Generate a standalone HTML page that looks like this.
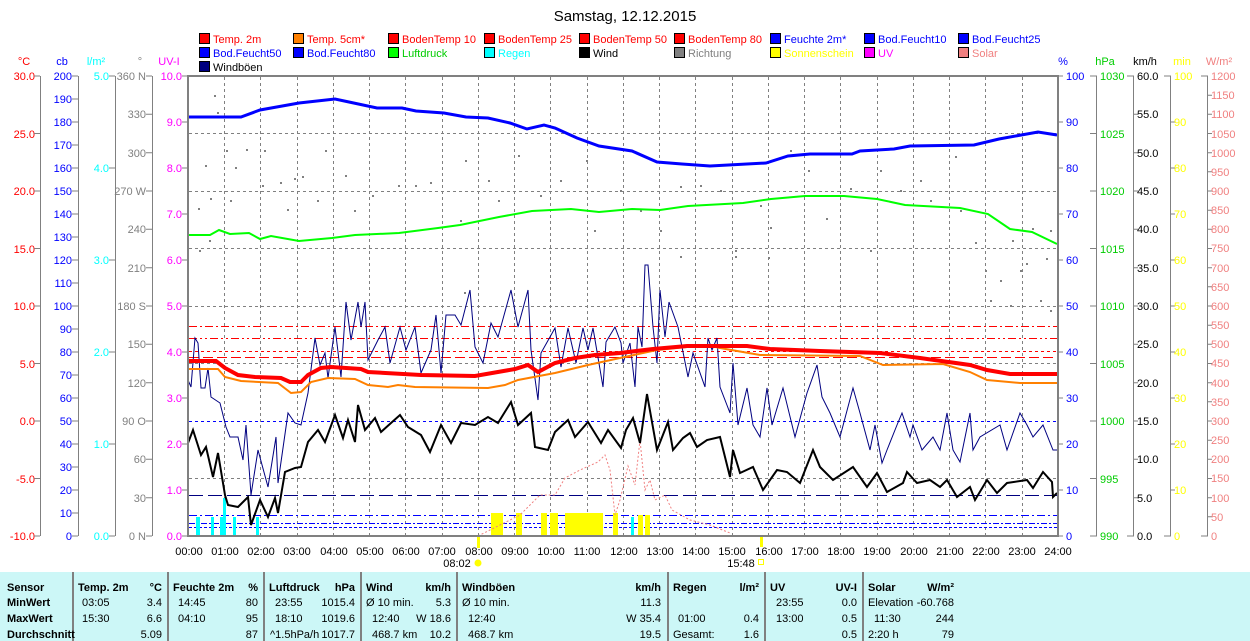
<!DOCTYPE html><html><head><meta charset="utf-8"><style>
html,body{margin:0;padding:0;background:#fff}
svg{display:block;font-family:"Liberation Sans",sans-serif;font-size:11px}
</style></head><body>
<svg width="1250" height="641" viewBox="0 0 1250 641" xmlns="http://www.w3.org/2000/svg">
<text x="625" y="21" font-size="15" text-anchor="middle">Samstag, 12.12.2015</text>
<g stroke="#000" stroke-width="1">
<rect x="199.5" y="33.5" width="10" height="10" fill="#f00"/><rect x="293.5" y="33.5" width="10" height="10" fill="#ff8000"/><rect x="388.5" y="33.5" width="10" height="10" fill="#f00"/><rect x="484.5" y="33.5" width="10" height="10" fill="#f00"/><rect x="579.5" y="33.5" width="10" height="10" fill="#f00"/><rect x="674.5" y="33.5" width="10" height="10" fill="#f00"/><rect x="770.5" y="33.5" width="10" height="10" fill="#00f"/><rect x="864.5" y="33.5" width="10" height="10" fill="#00f"/><rect x="958.5" y="33.5" width="10" height="10" fill="#00f"/>
<rect x="199.5" y="47.5" width="10" height="10" fill="#00f"/><rect x="293.5" y="47.5" width="10" height="10" fill="#00f"/><rect x="388.5" y="47.5" width="10" height="10" fill="#0f0"/><rect x="484.5" y="47.5" width="10" height="10" fill="#0ff"/><rect x="579.5" y="47.5" width="10" height="10" fill="#000"/><rect x="674.5" y="47.5" width="10" height="10" fill="#808080"/><rect x="770.5" y="47.5" width="10" height="10" fill="#ff0"/><rect x="864.5" y="47.5" width="10" height="10" fill="#f0f"/><rect x="958.5" y="47.5" width="10" height="10" fill="#f08080"/>
<rect x="199.5" y="61.5" width="10" height="10" fill="#000080"/>
</g>
<g>
<text x="213" y="43" fill="#f00">Temp. 2m</text><text x="307" y="43" fill="#f00">Temp. 5cm*</text><text x="402" y="43" fill="#f00">BodenTemp 10</text><text x="498" y="43" fill="#f00">BodenTemp 25</text><text x="593" y="43" fill="#f00">BodenTemp 50</text><text x="688" y="43" fill="#f00">BodenTemp 80</text><text x="784" y="43" fill="#00f">Feuchte 2m*</text><text x="878" y="43" fill="#00f">Bod.Feucht10</text><text x="972" y="43" fill="#00f">Bod.Feucht25</text>
<text x="213" y="57" fill="#00f">Bod.Feucht50</text><text x="307" y="57" fill="#00f">Bod.Feucht80</text><text x="402" y="57" fill="#0c0">Luftdruck</text><text x="498" y="57" fill="#0ff">Regen</text><text x="593" y="57" fill="#000">Wind</text><text x="688" y="57" fill="#808080">Richtung</text><text x="784" y="57" fill="#ff0">Sonnenschein</text><text x="878" y="57" fill="#f0f">UV</text><text x="972" y="57" fill="#f08080">Solar</text>
<text x="213" y="71" fill="#000">Windböen</text>
</g>
<g text-anchor="middle">
<text x="24" y="65" fill="#f00">°C</text><text x="62" y="65" fill="#00f">cb</text><text x="96" y="65" fill="#0ff">l/m²</text><text x="140" y="65" fill="#808080">°</text><text x="169" y="65" fill="#f0f">UV-I</text>
<text x="1063" y="65" fill="#00f">%</text><text x="1105" y="65" fill="#0c0">hPa</text><text x="1145" y="65" fill="#000">km/h</text><text x="1182" y="65" fill="#ff0">min</text><text x="1219" y="65" fill="#f08080">W/m²</text>
</g>
<g stroke="#808080" stroke-width="1">
<line x1="40.5" y1="76" x2="40.5" y2="536"/><line x1="78.5" y1="76" x2="78.5" y2="536"/><line x1="115.5" y1="76" x2="115.5" y2="536"/><line x1="152.5" y1="76" x2="152.5" y2="536"/>
<line x1="1096.5" y1="76" x2="1096.5" y2="536"/><line x1="1133.5" y1="76" x2="1133.5" y2="536"/><line x1="1170.5" y1="76" x2="1170.5" y2="536"/><line x1="1207.5" y1="76" x2="1207.5" y2="536"/>
</g>
<g fill="#f00" text-anchor="end">
<text x="35" y="80">30.0</text><text x="35" y="138">25.0</text><text x="35" y="195">20.0</text><text x="35" y="253">15.0</text><text x="35" y="310">10.0</text><text x="35" y="368">5.0</text><text x="35" y="425">0.0</text><text x="35" y="483">-5.0</text><text x="35" y="540">-10.0</text>
</g>
<g stroke="#808080"><path d="M34 76h6M34 133.5h6M34 191h6M34 248.5h6M34 306h6M34 363.5h6M34 421h6M34 478.5h6M34 536h6M72 76h6M72 99h6M72 122h6M72 145h6M72 168h6M72 191h6M72 214h6M72 237h6M72 260h6M72 283h6M72 306h6M72 329h6M72 352h6M72 375h6M72 398h6M72 421h6M72 444h6M72 467h6M72 490h6M72 513h6M72 536h6M109 76h6M109 168h6M109 260h6M109 352h6M109 444h6M109 536h6M146 76h6M146 114.3h6M146 152.7h6M146 191h6M146 229.3h6M146 267.7h6M146 306h6M146 344.3h6M146 382.7h6M146 421h6M146 459.3h6M146 497.7h6M146 536h6M182 76h6M182 122h6M182 168h6M182 214h6M182 260h6M182 306h6M182 352h6M182 398h6M182 444h6M182 490h6M182 536h6"/>
<path d="M1058 76h5M1058 122h5M1058 168h5M1058 214h5M1058 260h5M1058 306h5M1058 352h5M1058 398h5M1058 444h5M1058 490h5M1058 536h5M1090 76h7M1090 133.5h7M1090 191h7M1090 248.5h7M1090 306h7M1090 363.5h7M1090 421h7M1090 478.5h7M1090 536h7M1127 76h7M1133 114.3h5M1133 152.7h5M1133 191h5M1133 229.3h5M1133 267.7h5M1133 306h5M1133 344.3h5M1133 382.7h5M1133 421h5M1133 459.3h5M1133 497.7h5M1127 536h7M1164 76h7M1170 122h5M1170 168h5M1170 214h5M1170 260h5M1170 306h5M1170 352h5M1170 398h5M1170 444h5M1170 490h5M1164 536h7M1201 76h7M1207 95.2h5M1207 114.3h5M1207 133.5h5M1207 152.7h5M1207 171.8h5M1207 191h5M1207 210.2h5M1207 229.3h5M1207 248.5h5M1207 267.7h5M1207 286.8h5M1207 306h5M1207 325.2h5M1207 344.3h5M1207 363.5h5M1207 382.7h5M1207 401.8h5M1207 421h5M1207 440.2h5M1207 459.3h5M1207 478.5h5M1207 497.7h5M1207 516.8h5M1201 536h7"/></g>
<g fill="#00f" text-anchor="end">
<text x="72" y="80">200</text><text x="72" y="103">190</text><text x="72" y="126">180</text><text x="72" y="149">170</text><text x="72" y="172">160</text><text x="72" y="195">150</text><text x="72" y="218">140</text><text x="72" y="241">130</text><text x="72" y="264">120</text><text x="72" y="287">110</text><text x="72" y="310">100</text><text x="72" y="333">90</text><text x="72" y="356">80</text><text x="72" y="379">70</text><text x="72" y="402">60</text><text x="72" y="425">50</text><text x="72" y="448">40</text><text x="72" y="471">30</text><text x="72" y="494">20</text><text x="72" y="517">10</text><text x="72" y="540">0</text>
</g>
<g fill="#0ff" text-anchor="end">
<text x="109" y="80">5.0</text><text x="109" y="172">4.0</text><text x="109" y="264">3.0</text><text x="109" y="356">2.0</text><text x="109" y="448">1.0</text><text x="109" y="540">0.0</text>
</g>
<g fill="#808080" text-anchor="end">
<text x="146" y="80">360 N</text><text x="146" y="118">330</text><text x="146" y="157">300</text><text x="146" y="195">270 W</text><text x="146" y="233">240</text><text x="146" y="272">210</text><text x="146" y="310">180 S</text><text x="146" y="348">150</text><text x="146" y="387">120</text><text x="146" y="425">90 O</text><text x="146" y="463">60</text><text x="146" y="502">30</text><text x="146" y="540">0 N</text>
</g>
<g fill="#f0f" text-anchor="end">
<text x="182" y="80">10.0</text><text x="182" y="126">9.0</text><text x="182" y="172">8.0</text><text x="182" y="218">7.0</text><text x="182" y="264">6.0</text><text x="182" y="310">5.0</text><text x="182" y="356">4.0</text><text x="182" y="402">3.0</text><text x="182" y="448">2.0</text><text x="182" y="494">1.0</text><text x="182" y="540">0.0</text>
</g>
<g fill="#00f"><text x="1066" y="80">100</text><text x="1066" y="126">90</text><text x="1066" y="172">80</text><text x="1066" y="218">70</text><text x="1066" y="264">60</text><text x="1066" y="310">50</text><text x="1066" y="356">40</text><text x="1066" y="402">30</text><text x="1066" y="448">20</text><text x="1066" y="494">10</text><text x="1066" y="540">0</text></g>
<g fill="#0c0"><text x="1100" y="80">1030</text><text x="1100" y="138">1025</text><text x="1100" y="195">1020</text><text x="1100" y="253">1015</text><text x="1100" y="310">1010</text><text x="1100" y="368">1005</text><text x="1100" y="425">1000</text><text x="1100" y="483">995</text><text x="1100" y="540">990</text></g>
<g fill="#000"><text x="1137" y="80">60.0</text><text x="1137" y="118">55.0</text><text x="1137" y="157">50.0</text><text x="1137" y="195">45.0</text><text x="1137" y="233">40.0</text><text x="1137" y="272">35.0</text><text x="1137" y="310">30.0</text><text x="1137" y="348">25.0</text><text x="1137" y="387">20.0</text><text x="1137" y="425">15.0</text><text x="1137" y="463">10.0</text><text x="1137" y="502">5.0</text><text x="1137" y="540">0.0</text></g>
<g fill="#ff0"><text x="1174" y="80">100</text><text x="1174" y="126">90</text><text x="1174" y="172">80</text><text x="1174" y="218">70</text><text x="1174" y="264">60</text><text x="1174" y="310">50</text><text x="1174" y="356">40</text><text x="1174" y="402">30</text><text x="1174" y="448">20</text><text x="1174" y="494">10</text><text x="1174" y="540">0</text></g>
<g fill="#f08080"><text x="1211" y="80">1200</text><text x="1211" y="99">1150</text><text x="1211" y="118">1100</text><text x="1211" y="138">1050</text><text x="1211" y="157">1000</text><text x="1211" y="176">950</text><text x="1211" y="195">900</text><text x="1211" y="214">850</text><text x="1211" y="233">800</text><text x="1211" y="252">750</text><text x="1211" y="272">700</text><text x="1211" y="291">650</text><text x="1211" y="310">600</text><text x="1211" y="329">550</text><text x="1211" y="348">500</text><text x="1211" y="367">450</text><text x="1211" y="387">400</text><text x="1211" y="406">350</text><text x="1211" y="425">300</text><text x="1211" y="444">250</text><text x="1211" y="463">200</text><text x="1211" y="482">150</text><text x="1211" y="502">100</text><text x="1211" y="521">50</text><text x="1211" y="540">0</text></g>
<g stroke="#808080" stroke-dasharray="3,3" stroke-width="1">
<path d="M224.5 77V535M260.5 77V535M297.5 77V535M333.5 77V535M369.5 77V535M405.5 77V535M442.5 77V535M478.5 77V535M514.5 77V535M550.5 77V535M587.5 77V535M623.5 77V535M659.5 77V535M695.5 77V535M732.5 77V535M768.5 77V535M804.5 77V535M840.5 77V535M877.5 77V535M913.5 77V535M949.5 77V535M985.5 77V535M1022.5 77V535"/>
<path d="M189 133.5H1057M189 191.5H1057M189 248.5H1057M189 306.5H1057M189 363.5H1057M189 421.5H1057M189 478.5H1057"/>
</g>
<g stroke-width="1" fill="none">
<line x1="189" y1="326.5" x2="1057" y2="326.5" stroke="#f00" stroke-dasharray="8,3,2,3"/>
<line x1="189" y1="338.5" x2="1057" y2="338.5" stroke="#f00" stroke-dasharray="8,3,2,3,2,3"/>
<line x1="189" y1="351.5" x2="1057" y2="351.5" stroke="#f00" stroke-dasharray="3,3"/>
<line x1="189" y1="357.5" x2="1057" y2="357.5" stroke="#f00" stroke-dasharray="10,4"/>
<line x1="189" y1="421.5" x2="1057" y2="421.5" stroke="#00f" stroke-dasharray="3,3"/>
<line x1="189" y1="495.5" x2="1057" y2="495.5" stroke="#000080" stroke-dasharray="14,5"/>
<line x1="189" y1="515.5" x2="1057" y2="515.5" stroke="#00f" stroke-dasharray="8,3,2,3"/>
<line x1="189" y1="523.5" x2="1057" y2="523.5" stroke="#00f" stroke-dasharray="6,2,2,2"/>
<line x1="189" y1="527.5" x2="1057" y2="527.5" stroke="#00f" stroke-dasharray="3,2"/>
</g>
<g fill="#808080">
<rect x="214" y="95" width="2" height="2"/><rect x="217" y="112" width="2" height="2"/><rect x="226" y="150" width="2" height="2"/><rect x="246" y="149" width="2" height="2"/><rect x="235" y="167" width="2" height="2"/><rect x="205" y="165" width="2" height="2"/><rect x="210" y="198" width="2" height="2"/><rect x="198" y="208" width="2" height="2"/><rect x="209" y="240" width="2" height="2"/><rect x="199" y="250" width="2" height="2"/><rect x="230" y="200" width="2" height="2"/><rect x="264" y="150" width="2" height="2"/><rect x="262" y="185" width="2" height="2"/><rect x="280" y="182" width="2" height="2"/><rect x="294" y="178" width="2" height="2"/><rect x="302" y="176" width="2" height="2"/><rect x="287" y="209" width="2" height="2"/><rect x="317" y="200" width="2" height="2"/><rect x="325" y="150" width="2" height="2"/><rect x="345" y="175" width="2" height="2"/><rect x="354" y="210" width="2" height="2"/><rect x="372" y="195" width="2" height="2"/><rect x="398" y="185" width="2" height="2"/><rect x="415" y="185" width="2" height="2"/><rect x="430" y="182" width="2" height="2"/><rect x="460" y="220" width="2" height="2"/><rect x="465" y="160" width="2" height="2"/><rect x="488" y="180" width="2" height="2"/><rect x="498" y="200" width="2" height="2"/><rect x="518" y="155" width="2" height="2"/><rect x="540" y="195" width="2" height="2"/><rect x="560" y="180" width="2" height="2"/><rect x="586" y="160" width="2" height="2"/><rect x="594" y="230" width="2" height="2"/><rect x="620" y="190" width="2" height="2"/><rect x="640" y="210" width="2" height="2"/><rect x="660" y="230" width="2" height="2"/><rect x="680" y="186" width="2" height="2"/><rect x="700" y="185" width="2" height="2"/><rect x="720" y="190" width="2" height="2"/><rect x="735" y="250" width="2" height="2"/><rect x="760" y="205" width="2" height="2"/><rect x="770" y="227" width="2" height="2"/><rect x="790" y="150" width="2" height="2"/><rect x="808" y="170" width="2" height="2"/><rect x="826" y="218" width="2" height="2"/><rect x="850" y="188" width="2" height="2"/><rect x="880" y="170" width="2" height="2"/><rect x="900" y="190" width="2" height="2"/><rect x="920" y="180" width="2" height="2"/><rect x="930" y="200" width="2" height="2"/><rect x="955" y="156" width="2" height="2"/><rect x="960" y="210" width="2" height="2"/><rect x="975" y="242" width="2" height="2"/><rect x="985" y="270" width="2" height="2"/><rect x="990" y="300" width="2" height="2"/><rect x="1000" y="280" width="2" height="2"/><rect x="1010" y="305" width="2" height="2"/><rect x="1020" y="270" width="2" height="2"/><rect x="1026" y="263" width="2" height="2"/><rect x="1040" y="300" width="2" height="2"/><rect x="1046" y="258" width="2" height="2"/><rect x="1050" y="230" width="2" height="2"/><rect x="1012" y="240" width="2" height="2"/><rect x="1032" y="228" width="2" height="2"/><rect x="1050" y="310" width="2" height="2"/><rect x="870" y="250" width="2" height="2"/><rect x="680" y="256" width="2" height="2"/><rect x="735" y="256" width="2" height="2"/><rect x="464" y="292" width="2" height="2"/><rect x="768" y="257" width="2" height="2"/></g>
<g fill="#0ff">
<rect x="196" y="517" width="4" height="19"/><rect x="211" y="517" width="3" height="19"/><rect x="220" y="517" width="3" height="19"/><rect x="223" y="498" width="3" height="38"/><rect x="233" y="517" width="3" height="19"/><rect x="256" y="517" width="3" height="19"/><rect x="631" y="517" width="3" height="19"/>
</g>
<g fill="#ff0">
<rect x="491" y="513" width="12" height="23"/><rect x="516" y="513" width="6" height="23"/><rect x="541" y="513" width="6" height="23"/><rect x="550" y="513" width="8" height="23"/><rect x="565" y="513" width="38" height="23"/><rect x="613" y="513" width="5" height="23"/><rect x="638" y="515" width="5" height="21"/><rect x="645" y="515" width="5" height="21"/><rect x="477" y="535" width="3" height="13"/><rect x="760" y="535" width="3" height="12"/>
</g>
<polyline fill="none" stroke="#f08080" stroke-width="1" stroke-dasharray="2,2" points="478,536 500,525 520,515 540,495 555,495 565,478 580,470 598,462 605,455 610,470 615,515 620,500 628,466 635,485 640,440 645,490 650,480 655,500 665,495 672,510 690,520 710,525 730,533"/>
<polyline fill="none" stroke="#00f" stroke-width="3" points="188,117 241,117 260,110 299,103 335,99 349,102 377,108 402,108 416,111 444,113 466,117 488,118 510,123 527,129 544,125 555,128 577,138 599,146 632,151 657,162 682,164 710,166 766,163 788,156 810,154 852,154 860,151 894,149 910,146 974,145 999,139 1038,132 1057,135"/>
<polyline fill="none" stroke="#0f0" stroke-width="2" points="188,235 210,235 219,230 230,234 249,233 260,239 271,236 299,241 332,238 355,235 399,233 438,228 460,225 499,217 532,211 571,209 599,212 632,209 660,210 688,206 743,203 771,199 805,196 844,196 877,199 905,205 960,208 988,214 1010,229 1032,232 1057,244"/>
<polyline fill="none" stroke="#000080" stroke-width="1" points="188,380 191,387 195,338 198,343 201,388 205,388 208,368 211,397 220,403 226,427 230,437 238,437 243,460 246,425 251,495 258,450 268,487 276,437 278,483 288,413 295,423 301,425 308,393 315,338 320,365 325,353 328,378 335,327 341,377 346,302 351,340 358,302 361,327 365,302 368,360 378,340 385,327 390,363 400,327 406,350 415,327 421,373 431,350 436,315 441,373 446,315 455,315 461,325 470,290 475,347 483,363 491,323 498,337 511,290 518,327 528,290 531,350 538,400 541,353 555,328 561,367 568,328 576,363 583,328 588,350 593,328 603,387 606,342 615,327 621,343 623,363 630,343 635,387 638,327 642,347 645,265 648,265 653,327 657,363 660,290 665,337 669,302 678,327 688,377 693,353 705,387 708,338 712,350 717,338 720,387 730,413 733,363 738,425 747,388 753,425 760,437 767,388 772,425 783,388 795,437 807,393 817,365 822,397 830,413 840,437 853,388 860,413 870,450 875,425 882,463 887,450 897,425 902,413 910,437 913,425 922,450 933,437 940,450 947,413 953,450 960,462 970,413 973,450 980,437 1000,425 1007,450 1020,413 1027,425 1033,437 1043,425 1053,450 1057,450"/>
<polyline fill="none" stroke="#ff8000" stroke-width="2" points="188,369 218,369 225,377 241,381 278,383 291,393 301,392 311,382 328,378 355,379 368,385 388,387 398,385 415,387 488,388 505,385 518,380 555,373 588,365 620,358 657,350 707,345 720,348 760,355 860,356 883,365 943,364 970,372 987,380 1020,383 1057,383"/>
<polyline fill="none" stroke="#f00" stroke-width="4" points="188,361 216,361 225,368 238,375 255,377 281,378 290,382 301,382 308,375 321,368 331,367 361,369 368,372 421,375 475,376 515,369 528,365 538,372 555,363 575,358 595,355 620,353 653,349 687,346 747,346 770,349 820,351 880,353 920,358 970,365 987,370 1010,374 1057,374"/>
<polyline fill="none" stroke="#000" stroke-width="2" points="188,443 193,430 201,455 206,447 213,477 218,453 225,495 228,505 238,507 248,497 251,525 260,500 268,517 275,498 278,513 285,472 295,468 301,467 308,442 318,430 325,442 335,415 343,438 348,420 355,442 358,405 365,430 375,418 381,432 391,423 400,415 408,427 421,435 430,452 441,425 451,443 461,423 475,425 488,417 498,423 511,402 518,425 531,413 535,447 548,450 555,432 568,420 575,437 588,422 601,443 608,430 621,448 626,430 633,418 640,443 647,394 657,450 668,422 673,450 683,438 690,433 697,447 707,440 720,437 730,477 733,450 740,473 753,467 763,490 777,470 787,472 800,483 813,450 820,467 833,480 853,467 867,487 877,473 887,492 903,483 907,472 917,483 930,480 940,487 947,480 957,497 970,487 975,500 987,480 997,493 1007,483 1027,480 1033,488 1043,472 1052,482 1053,497 1057,493"/>
<rect x="188" y="76" width="870" height="460" fill="none" stroke="#808080" stroke-width="2"/>
<g text-anchor="middle">
<text x="189" y="555">00:00</text><text x="225" y="555">01:00</text><text x="261" y="555">02:00</text><text x="297" y="555">03:00</text><text x="334" y="555">04:00</text><text x="370" y="555">05:00</text><text x="406" y="555">06:00</text><text x="442" y="555">07:00</text><text x="479" y="555">08:00</text><text x="515" y="555">09:00</text><text x="551" y="555">10:00</text><text x="587" y="555">11:00</text><text x="624" y="555">12:00</text><text x="660" y="555">13:00</text><text x="696" y="555">14:00</text><text x="732" y="555">15:00</text><text x="769" y="555">16:00</text><text x="805" y="555">17:00</text><text x="841" y="555">18:00</text><text x="877" y="555">19:00</text><text x="914" y="555">20:00</text><text x="950" y="555">21:00</text><text x="986" y="555">22:00</text><text x="1022" y="555">23:00</text><text x="1058" y="555">24:00</text>
<text x="457" y="567">08:02</text><text x="741" y="567">15:48</text>
</g>
<circle cx="478" cy="563" r="3.5" fill="#ff0"/>
<rect x="758.5" y="559.5" width="5" height="5" fill="none" stroke="#ff0"/>
<rect x="0" y="572" width="1250" height="69" fill="#ccf7f7"/>
<g stroke="#808080" stroke-width="2"><path d="M73 572V641M168 572V641M264 572V641M361 572V641M457 572V641M668 572V641M765 572V641M863 572V641"/></g>
<g>
<g font-weight="bold"><text x="7" y="591">Sensor</text><text x="7" y="606">MinWert</text><text x="7" y="622">MaxWert</text><text x="7" y="638">Durchschnitt</text>
<text x="78" y="591">Temp. 2m</text><text x="173" y="591">Feuchte 2m</text><text x="269" y="591">Luftdruck</text><text x="366" y="591">Wind</text><text x="462" y="591">Windböen</text><text x="673" y="591">Regen</text><text x="770" y="591">UV</text><text x="868" y="591">Solar</text></g>
<g font-weight="bold" text-anchor="end"><text x="162" y="591">°C</text><text x="258" y="591">%</text><text x="355" y="591">hPa</text><text x="451" y="591">km/h</text><text x="661" y="591">km/h</text><text x="759" y="591">l/m²</text><text x="857" y="591">UV-I</text><text x="954" y="591">W/m²</text></g>
<text x="82" y="606">03:05</text><text x="82" y="622">15:30</text>
<text x="178" y="606">14:45</text><text x="178" y="622">04:10</text>
<text x="275" y="606">23:55</text><text x="275" y="622">18:10</text><text x="270" y="638">^1.5hPa/h</text>
<text x="366" y="606">Ø 10 min.</text><text x="372" y="622">12:40</text><text x="372" y="638">468.7 km</text>
<text x="462" y="606">Ø 10 min.</text><text x="468" y="622">12:40</text><text x="468" y="638">468.7 km</text>
<text x="678" y="622">01:00</text><text x="673" y="638">Gesamt:</text>
<text x="776" y="606">23:55</text><text x="776" y="622">13:00</text>
<text x="868" y="606">Elevation</text><text x="874" y="622">11:30</text><text x="868" y="638">2:20 h</text>
<g text-anchor="end">
<text x="162" y="606">3.4</text><text x="162" y="622">6.6</text><text x="162" y="638">5.09</text>
<text x="258" y="606">80</text><text x="258" y="622">95</text><text x="258" y="638">87</text>
<text x="355" y="606">1015.4</text><text x="355" y="622">1019.6</text><text x="355" y="638">1017.7</text>
<text x="451" y="606">5.3</text><text x="451" y="622">W 18.6</text><text x="451" y="638">10.2</text>
<text x="661" y="606">11.3</text><text x="661" y="622">W 35.4</text><text x="661" y="638">19.5</text>
<text x="759" y="622">0.4</text><text x="759" y="638">1.6</text>
<text x="857" y="606">0.0</text><text x="857" y="622">0.5</text><text x="857" y="638">0.5</text>
<text x="954" y="606">-60.768</text><text x="954" y="622">244</text><text x="954" y="638">79</text>
</g>
</g>
</svg>
</body></html>
